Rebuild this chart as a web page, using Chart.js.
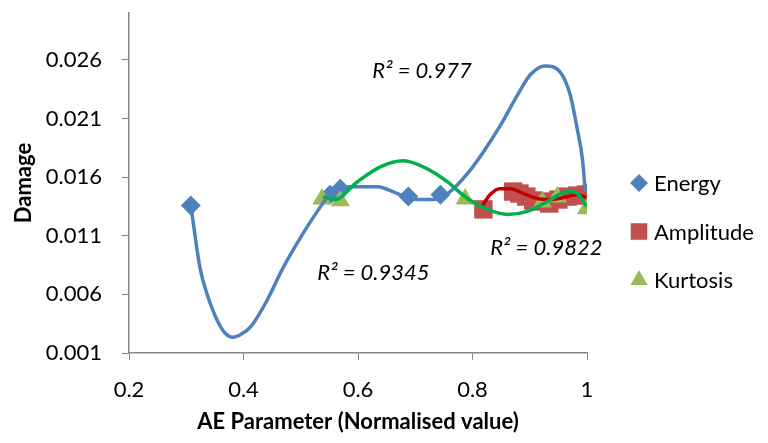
<!DOCTYPE html>
<html>
<head>
<meta charset="utf-8">
<title>Damage vs AE Parameter</title>
<script src="https://cdn.jsdelivr.net/npm/chart.js@4.4.1/dist/chart.umd.min.js"></script>
<style>
    html, body { margin: 0; padding: 0; background: #fff; }
    #wrap { width: 768px; height: 443px; }
</style>
</head>
<body>
<div id="wrap"><canvas id="damageChart" width="768" height="443"></canvas></div>
<script>
// Damage against normalised AE parameters

// Measured points
const energyX = [0.308, 0.551, 0.569, 0.688, 0.744, 0.997];
const energyY = [0.01358, 0.0145, 0.0150, 0.01434, 0.0145, 0.0147];

const amplitudeX = [0.819, 0.871, 0.882, 0.894, 0.906, 0.920, 0.934, 0.950, 0.966, 0.983, 0.998];
const amplitudeY = [0.01325, 0.01477, 0.0146, 0.01434, 0.01401, 0.01392, 0.01375, 0.01409, 0.01434, 0.01443, 0.01451];

const kurtosisX = [0.537, 0.569, 0.787, 0.922, 0.948, 0.999];
const kurtosisY = [0.01414, 0.01398, 0.01414, 0.01389, 0.01431, 0.0133];

// Polynomial trendlines, sampled along the drawn curves
const energyFitX = [0.308, 0.315, 0.324, 0.336, 0.354, 0.368, 0.382, 0.396, 0.412, 0.441, 0.469, 0.499, 0.529, 0.551,
    0.586, 0.634, 0.669, 0.704, 0.732, 0.761, 0.791, 0.819, 0.849, 0.878, 0.901, 0.927, 0.954, 0.971, 0.983, 0.992, 0.997];
const energyFitY = [0.01358, 0.01114, 0.00826, 0.00607, 0.00379, 0.00269, 0.00235, 0.0026, 0.0032, 0.00548, 0.00826,
    0.0108, 0.01308, 0.01451, 0.01519, 0.01519, 0.0146, 0.01409, 0.0141, 0.01477, 0.01629, 0.01815, 0.02043, 0.02296,
    0.02473, 0.02549, 0.0249, 0.02296, 0.02009, 0.01755, 0.01477];

const amplitudeFitX = [0.817, 0.831, 0.847, 0.866, 0.889, 0.913, 0.936, 0.959, 0.983, 0.999];
const amplitudeFitY = [0.01358, 0.01451, 0.01502, 0.01502, 0.0146, 0.01418, 0.01409, 0.01426, 0.01451, 0.01426];

const kurtosisFitX = [0.539, 0.560, 0.599, 0.639, 0.679, 0.721, 0.756, 0.791, 0.826, 0.861, 0.896, 0.931, 0.966, 0.983, 0.999];
const kurtosisFitY = [0.01434, 0.01409, 0.01561, 0.01688, 0.01739, 0.01671, 0.01561, 0.01418, 0.01325, 0.01282,
    0.01308, 0.01392, 0.01477, 0.0146, 0.0135];

// Axes
const xTicks = [0.2, 0.4, 0.6, 0.8, 1];
const xTickLabels = ['0.2', '0.4', '0.6', '0.8', '1'];
const yTicks = [0.001, 0.006, 0.011, 0.016, 0.021, 0.026];
const yTickLabels = ['0.001', '0.006', '0.011', '0.016', '0.021', '0.026'];

// R² labels next to the fits
const fitLabels = [
    { text: 'R² = 0.977', x: 0.625, y: 0.0251 },
    { text: 'R² = 0.9345', x: 0.529, y: 0.0078 },
    { text: 'R² = 0.9822', x: 0.831, y: 0.00995 }
];

const FONT = 'Lato';
const toPoints = (xs, ys) => xs.map((x, i) => ({ x: x, y: ys[i] }));

// R² text drawn in data coordinates
const fitLabelPlugin = {
    id: 'fitLabels',
    afterDatasetsDraw(chart) {
        const { ctx, scales } = chart;
        ctx.save();
        ctx.font = 'italic 22px ' + FONT;
        ctx.fillStyle = '#000';
        ctx.textAlign = 'left';
        ctx.textBaseline = 'middle';
        fitLabels.forEach(l => {
            ctx.fillText(l.text, scales.x.getPixelForValue(l.x), scales.y.getPixelForValue(l.y));
        });
        ctx.restore();
    }
};

// Legend at the right, markers only for the measured series
const sideLegendPlugin = {
    id: 'sideLegend',
    afterDraw(chart) {
        const ctx = chart.ctx;
        const x = chart.chartArea.right + 52;
        let y = 183;
        ctx.save();
        chart.data.datasets.filter(ds => ds.inLegend).forEach(ds => {
            ctx.fillStyle = ds.backgroundColor;
            Chart.helpers.drawPoint(ctx, {
                pointStyle: ds.pointStyle,
                radius: ds.legendRadius,
                rotation: 0,
                borderWidth: 0
            }, x, y);
            ctx.fillStyle = '#000';
            ctx.font = '22px ' + FONT;
            ctx.textAlign = 'left';
            ctx.textBaseline = 'middle';
            ctx.fillText(ds.label, x + 15, y + 1);
            y += 48.5;
        });
        ctx.restore();
    }
};

function markerSet(label, xs, ys, style, radius, color, order) {
    return {
        label: label,
        data: toPoints(xs, ys),
        showLine: false,
        pointStyle: style,
        pointRadius: radius,
        pointHoverRadius: radius,
        backgroundColor: color,
        borderColor: color,
        pointBorderWidth: 0,
        inLegend: true,
        legendRadius: radius * 0.9,
        order: order
    };
}

function fitSet(xs, ys, color, order) {
    return {
        label: '',
        data: toPoints(xs, ys),
        showLine: true,
        pointRadius: 0,
        borderColor: color,
        backgroundColor: color,
        borderWidth: 3.5,
        cubicInterpolationMode: 'monotone',
        fill: false,
        inLegend: false,
        order: order
    };
}

Chart.defaults.font.family = FONT;
Chart.defaults.color = '#000';

// lower order is drawn on top: fits over markers, later series over earlier ones
new Chart(document.getElementById('damageChart'), {
    type: 'scatter',
    data: {
        datasets: [
            markerSet('Energy', energyX, energyY, 'rectRot', 10, '#4F81BD', 5),
            markerSet('Amplitude', amplitudeX, amplitudeY, 'rect', 13, '#C0504D', 4),
            markerSet('Kurtosis', kurtosisX, kurtosisY, 'triangle', 11, '#9BBB59', 3),
            fitSet(energyFitX, energyFitY, '#4F81BD', 1),
            fitSet(amplitudeFitX, amplitudeFitY, '#C00000', 2),
            fitSet(kurtosisFitX, kurtosisFitY, '#00B050', 0)
        ]
    },
    options: {
        responsive: false,
        animation: false,
        layout: { padding: { left: 11, top: 10, right: 181, bottom: 8 } },
        plugins: {
            legend: { display: false },
            tooltip: { enabled: false }
        },
        scales: {
            x: {
                type: 'linear',
                min: 0.2,
                max: 1,
                afterBuildTicks: s => { s.ticks = xTicks.map(v => ({ value: v })); },
                afterFit: s => { s.height = 82; s.paddingLeft = 0; s.paddingRight = 0; },
                ticks: {
                    font: { size: 22 },
                    padding: 17,
                    maxRotation: 0,
                    callback: (v, i) => xTickLabels[i]
                },
                grid: { drawOnChartArea: false, color: '#868686', tickLength: 7 },
                border: { color: '#868686', width: 1.5 },
                title: {
                    display: true,
                    text: 'AE Parameter (Normalised value)',
                    font: { size: 22, weight: 'bold' },
                    padding: 0
                }
            },
            y: {
                type: 'linear',
                min: 0.001,
                max: 0.03,
                afterBuildTicks: s => { s.ticks = yTicks.map(v => ({ value: v })); },
                afterFit: s => { s.width = 118; s.paddingTop = 0; s.paddingBottom = 0; },
                ticks: {
                    font: { size: 22 },
                    padding: 20,
                    callback: (v, i) => yTickLabels[i]
                },
                grid: { drawOnChartArea: false, color: '#868686', tickLength: 7 },
                border: { color: '#868686', width: 1.5 },
                title: {
                    display: true,
                    text: 'Damage',
                    font: { size: 22, weight: 'bold' },
                    padding: 0
                }
            }
        }
    },
    plugins: [fitLabelPlugin, sideLegendPlugin]
});
</script>
</body>
</html>
